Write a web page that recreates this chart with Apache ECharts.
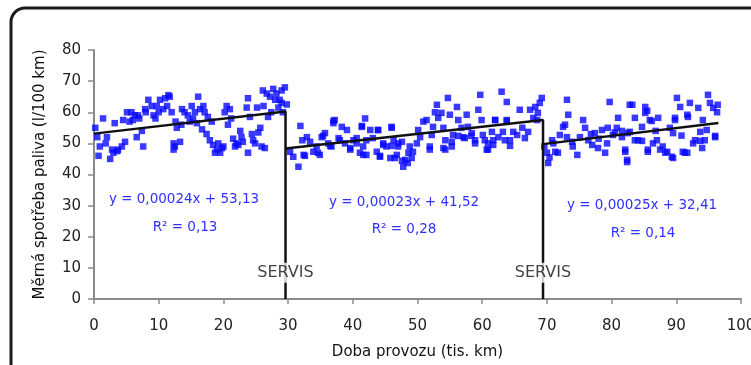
<!DOCTYPE html>
<html>
<head>
<meta charset="utf-8">
<script src="https://cdn.jsdelivr.net/npm/echarts@6/dist/echarts.min.js"></script>
<style>
  html, body { margin: 0; padding: 0; background: #fff; }
  #chart { width: 751px; height: 365px; }
</style>
</head>
<body>
<div id="chart"></div>
<script>
// Doba provozu (tis. km) / Měrná spotřeba paliva (l/100 km)
const km1 = [0.2, 0.5, 0.7, 1.4, 0.9, 2, 2.5, 3.2, 3, 3.7, 4.3, 4.8, 4.5, 5.1, 5.8, 6.3, 6.6, 6.8, 7.4, 7.6,
  7.9, 8.4, 8.9, 9.2, 9.7, 10.2, 10.7, 11, 11.5, 11.7, 12, 12.3, 12.3, 12.5, 12.8, 13.3, 13.6, 14, 14.5, 15.1,
  15.3, 15.9, 16.1, 16.4, 16.7, 16.9, 17.4, 17.6, 17.9, 18.4, 18.7, 19.2, 19.5, 20, 20.5, 21, 20.7, 21.5, 21.8, 22.3,
  22.6, 22.8, 23, 23.6, 23.8, 23.8, 24.1, 24.4, 24.6, 25.2, 25.4, 25.7, 26.1, 26.4, 26.7, 26.9, 27.2, 27.7, 28, 28.2,
  28.5, 29, 29.5, 29.2, 29.8, 29, 1.8, 2.8, 3.6, 5.5, 6, 7, 8, 9.5, 10, 11.3, 12.6, 13.5, 14.8, 15.6,
  17.1, 18.2, 19, 19.8, 20.2, 21.2, 22, 24.9, 25.9, 27.4, 28.7, 26.2];
const fuel1 = [55, 52, 46, 58, 49, 52, 45, 56.5, 47, 48, 49, 50.5, 57.5, 60, 60, 59, 52, 59, 54, 49,
  61, 64, 62, 59, 62, 64, 61, 64.5, 65.5, 65, 60, 50, 48, 49, 55, 50.5, 61, 60, 59, 62,
  58, 56.5, 65, 61, 54.5, 62, 53, 58.5, 51, 49.5, 47, 50, 47, 49, 62, 61, 56, 51.5, 49, 49.5,
  54, 52, 50.5, 61.5, 47, 64.5, 58.5, 53, 51, 61.5, 53.5, 55, 67, 48.5, 66, 58.5, 65, 67.5, 64, 66,
  61.5, 67, 68, 60, 62.5, 63, 50, 48, 47.5, 57, 57.5, 58, 60, 58, 60, 62, 57, 56, 57, 60,
  60, 57, 48, 48.5, 60, 58, 50, 50, 49, 60, 64, 62];

const km2 = [30.3, 30.8, 31.6, 31.9, 32.2, 32.4, 32.9, 33.4, 33.9, 34.4, 34.9, 35.2, 35.7, 36.2, 36.7, 37, 37.2, 37.8, 38.3, 38.8,
  39.1, 39.6, 40.1, 40.6, 41.1, 41.4, 41.6, 41.9, 42.1, 42.7, 43.1, 43.7, 43.9, 44.2, 44.7, 45.2, 45.8, 46, 46.3, 46.8,
  47, 47.6, 47.8, 48.1, 48.6, 48.8, 49.3, 49.9, 50.1, 50.4, 50.9, 51.4, 51.9, 52.2, 52.4, 52.7, 53, 53.2, 53.7, 54,
  54.3, 54, 54.7, 55, 55.3, 55.5, 56.1, 56.3, 56.8, 57.1, 57.6, 57.8, 58.4, 58.9, 59.4, 59.7, 59.9, 60.1, 60.7, 60.9,
  61.5, 61.7, 62, 62.5, 63, 63.2, 63.8, 63.8, 64.3, 64.8, 65.4, 65.8, 66.2, 66.6, 67.1, 67.4, 67.9, 68.2, 68.6, 68.9,
  69.2, 68.5, 49.1, 48.5, 51.9, 54.3, 55.3, 56.3, 57.3, 58.3, 58.9, 60.4, 60.9, 61.7, 63.5, 64.3, 63.8, 62,
  37, 41.4, 43.9, 46, 38, 40.6, 42.1, 44.7, 46, 47, 32.6, 34.6, 35.4, 36.5, 39.6, 41.6, 44.2, 46.5, 47.6];
const fuel2 = [47.3, 45.7, 42.5, 55.6, 51, 46.3, 52, 50.5, 47.3, 49, 46.3, 52, 53.3, 50, 49, 56.5, 57.5, 51.7, 55.3, 50,
  54.3, 48, 51, 50, 47, 55.3, 49, 58, 46.3, 54.3, 51.7, 47.3, 54.3, 45.7, 50, 49, 45.3, 55.3, 51, 46.3,
  49, 50.5, 42.5, 44.7, 47, 49, 47.3, 50, 54.3, 52, 57, 57.5, 49, 52.7, 55.3, 60, 62.4, 58.2, 59.8, 55,
  51, 48.5, 64.6, 59.2, 49, 52.7, 61.7, 57.5, 55, 52, 59.2, 55.3, 53.3, 51, 60.8, 65.6, 57.5, 52.7, 48, 50,
  53.7, 51, 57.5, 52, 66.6, 53.7, 63.3, 57.5, 51, 53.7, 52.7, 60.8, 55, 51.7, 53.7, 60.8, 58.2, 61.7, 59.8, 63,
  64.6, 57.5, 45.3, 43.7, 48, 48, 50.5, 52.4, 51.7, 52.4, 50, 51, 48, 49.5, 51, 49.2, 57.2, 57.5,
  57.2, 55.6, 54.3, 55, 51, 51.7, 51, 49.5, 49.2, 50, 46, 47, 52.4, 49.2, 48.5, 46.3, 46, 45.3, 44.4];

const km3 = [69.6, 70, 70.2, 70.8, 71.3, 71.7, 72, 72.5, 73.1, 73.3, 73.1, 73.9, 74, 74.7, 75.1, 75.6, 75.9, 76.4, 77, 77.4,
  77.9, 78.5, 79, 79.3, 79.4, 79.7, 80.2, 80.8, 81, 81.6, 82.1, 82.4, 82.8, 83.2, 83.6, 84.1, 84.7, 85.2, 85.2, 85.6,
  85.9, 86.4, 87, 87.2, 87.5, 87.9, 88.6, 89, 89.3, 89.8, 90.1, 90.6, 91, 91.7, 91.8, 92.1, 92.6, 92.9, 93.4, 93.7,
  94, 94.1, 94.9, 95.2, 95.7, 96, 96.4, 96.3, 94.4, 94.7, 82.8, 85.5, 86.2, 89.8, 89.5, 91.7, 82.1, 82.4, 85.6, 88.3,
  89.5, 91.3, 93.7, 96, 83.6, 84.7, 81.6, 82.5, 70.4, 71, 72.8, 76.8, 78, 80.5, 86.8, 90.8];
const fuel3 = [49, 47, 43.7, 51, 47.3, 47, 52.7, 55.3, 52, 59.2, 64, 50.5, 49, 46.3, 52, 57.5, 55, 51, 49.5, 53.3,
  48.5, 54.3, 47, 50, 55, 63.3, 52.7, 55, 58.2, 52, 47.3, 44, 53.7, 62.4, 58.2, 51, 55.3, 61.7, 59.8, 47.3,
  57.5, 50, 51, 58.2, 48, 49, 47.3, 55, 45.7, 58.2, 64.6, 61.7, 47.3, 47, 58.5, 63, 50, 51, 61.4, 53.7,
  48.5, 57.5, 65.6, 63, 61.4, 52, 62.4, 60, 51, 54.3, 62.4, 60.5, 57.2, 57.5, 53.3, 59.2, 48, 44.7, 48, 47,
  45.3, 47, 50.8, 52.4, 51, 50.8, 54, 53.3, 45.5, 50, 56, 53, 51.5, 53.5, 54, 52.5];

// regression lines from the chart labels (x in km)
const slopes = [0.00024, 0.00023, 0.00025];
const intercepts = [53.13, 41.52, 32.41];
const segStart = [0, 29.6, 69.4];
const segEnd = [29.6, 69.4, 96.5];
const equations = ['y = 0,00024x + 53,13', 'y = 0,00023x + 41,52', 'y = 0,00025x + 32,41'];
const rSquared = ['R² = 0,13', 'R² = 0,28', 'R² = 0,14'];
const serviceKm = [29.6, 69.4];
const serviceLabel = 'SERVIS';

const pairs = (xs, ys) => xs.map((x, i) => [x, ys[i]]);
const trendY = (i, x) => intercepts[i] + slopes[i] * x * 1000;

const font = 'DejaVu Sans';
const blue = '#0808ff';

const trendSeries = segStart.map((x0, i) => {
  const pts = [[x0, trendY(i, x0)], [segEnd[i], trendY(i, segEnd[i])]];
  if (i < serviceKm.length) pts.push([serviceKm[i], 0]);
  return {
    type: 'line', data: pts, symbol: 'none', z: 3, silent: true,
    lineStyle: { color: '#111', width: 2.5 }
  };
});

const eqPos = [[184, 199, 185, 227], [404, 202, 404, 229], [642, 205, 643, 233]];
const eqGraphics = [];
equations.forEach((t, i) => {
  eqGraphics.push({ type: 'text', x: eqPos[i][0], y: eqPos[i][1],
    style: { text: t, fill: '#3030ff', font: '13.5px "' + font + '"', textAlign: 'center', textVerticalAlign: 'middle' } });
  eqGraphics.push({ type: 'text', x: eqPos[i][2], y: eqPos[i][3],
    style: { text: rSquared[i], fill: '#3030ff', font: '13.5px "' + font + '"', textAlign: 'center', textVerticalAlign: 'middle' } });
});

const chart = echarts.init(document.getElementById('chart'));
chart.setOption({
  animation: false,
  textStyle: { fontFamily: font },
  grid: { left: 94, right: 10, top: 50, bottom: 66, outerBoundsMode: 'none', containLabel: false },
  xAxis: {
    type: 'value', min: 0, max: 100, interval: 10,
    name: 'Doba provozu (tis. km)', nameLocation: 'middle', nameGap: 46,
    nameTextStyle: { fontSize: 15, color: '#111' },
    axisLine: { lineStyle: { color: '#8a8a8a', width: 2 } },
    axisTick: { length: 5, lineStyle: { color: '#8a8a8a', width: 1.5 } },
    axisLabel: { fontSize: 15, color: '#222', margin: 20 },
    splitLine: { show: false }
  },
  yAxis: {
    type: 'value', min: 0, max: 80, interval: 10,
    name: 'Měrná spotřeba paliva (l/100 km)', nameLocation: 'middle', nameGap: 46,
    nameTextStyle: { fontSize: 15, color: '#111' },
    axisLine: { show: true, lineStyle: { color: '#8a8a8a', width: 2 } },
    axisTick: { show: true, length: 6, lineStyle: { color: '#8a8a8a', width: 1.5 } },
    axisLabel: { fontSize: 15, color: '#222', margin: 13 },
    splitLine: { show: false }
  },
  series: [
    { type: 'scatter', data: pairs(km1, fuel1), symbol: 'rect', symbolSize: 6.5, itemStyle: { color: blue }, z: 2 },
    { type: 'scatter', data: pairs(km2, fuel2), symbol: 'rect', symbolSize: 6.5, itemStyle: { color: blue }, z: 2 },
    { type: 'scatter', data: pairs(km3, fuel3), symbol: 'rect', symbolSize: 6.5, itemStyle: { color: blue }, z: 2 },
    ...trendSeries,
    {
      type: 'scatter', z: 5, silent: true, symbolSize: 1,
      itemStyle: { color: 'rgba(0,0,0,0)' },
      data: serviceKm.map(x => [x, 8.4]),
      label: {
        show: true, position: 'inside', formatter: serviceLabel,
        fontSize: 16, color: '#111', backgroundColor: '#fff', padding: [2, 1]
      }
    }
  ],
  graphic: [
    { type: 'rect', shape: { x: 11, y: 8, width: 800, height: 420, r: 14 },
      style: { fill: 'none', stroke: '#1a1a1a', lineWidth: 3 }, z: 100 },
    ...eqGraphics
  ]
});
</script>
</body>
</html>
